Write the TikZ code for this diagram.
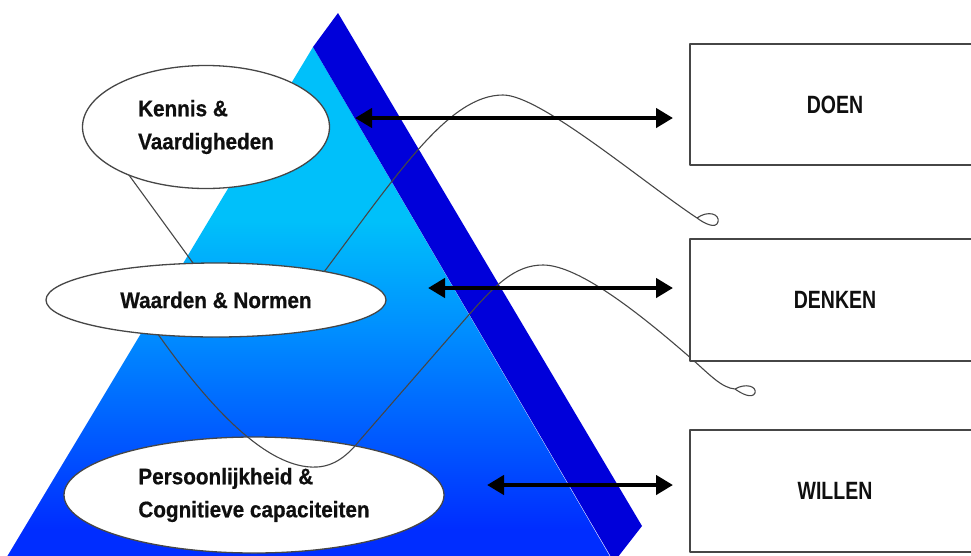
\documentclass[tikz,border=0pt]{standalone}
\usepackage{fontspec}
\newfontfamily\ovalfont[FakeStretch=0.92,BoldFeatures={FakeBold=0.6}]{Liberation Sans}
\newfontfamily\boxfont[FakeStretch=0.78]{Liberation Sans}
\usetikzlibrary{shapes.geometric,arrows.meta}
\definecolor{facetop}{RGB}{0,192,250}
\definecolor{facemid}{RGB}{0,140,255}
\definecolor{facelow}{RGB}{0,95,255}
\definecolor{facebot}{RGB}{0,45,255}
\definecolor{bandblue}{RGB}{0,0,218}
\definecolor{rimgray}{RGB}{70,70,70}
\definecolor{inkblack}{RGB}{15,15,15}
\pgfdeclareverticalshading{facefill}{100bp}{color(0bp)=(facebot); color(28bp)=(facebot);
   color(38bp)=(facelow); color(47bp)=(facemid); color(58bp)=(facetop); color(100bp)=(facetop)}

\begin{document}
\begin{tikzpicture}[x=1pt, y=-1pt, line join=round,
    strand/.style={draw=rimgray, line width=1.1pt},
    twoway/.style={line width=4.8pt, {Triangle[length=17pt,width=19pt]}-{Triangle[length=17pt,width=19pt]}}]
\useasboundingbox (0,0) rectangle (971,555);
\clip (0,0) rectangle (971,555);

   \shade[shading=facefill] (313,47) -- (5,560) -- (612,560) -- cycle;
   \fill[bandblue] (338,13) -- (642,526) -- (614,562) -- (313,47) -- cycle;

   \begin{scope}[every node/.style={ellipse,draw=rimgray,line width=1.3pt,fill=white,
         inner sep=0pt,align=left,text=inkblack,font=\ovalfont\bfseries\fontsize{22.5}{33}\selectfont}]
    \node[minimum width=380pt, minimum height=116pt] (persoon) at (254,495)
       {Persoonlijkheid \&\\Cognitieve capaciteiten};
   \end{scope}

\draw[strand] (118,160) -- (193,263) .. controls (225,310) and (300,305) .. (327,268)
   .. controls (400,170) and (450,95) .. (503,95)
   .. controls (540,95) and (640,180) .. (697,218)
   .. controls (708,210) and (720,214) .. (718,222)
   .. controls (716,229) and (705,224) .. (697,218);
\draw[strand] (140,312) -- (160,337) .. controls (205,400) and (265,470) .. (317,467)
   .. controls (335,466) and (348,455) .. (360,440)
   -- (467,317)
   .. controls (495,285) and (515,265) .. (543,265)
   .. controls (580,265) and (645,318) .. (693,360)
   .. controls (710,375) and (722,388) .. (735,389)
   .. controls (745,383) and (757,386) .. (755,393)
   .. controls (752,399) and (742,394) .. (735,389);

   \begin{scope}[every node/.style={ellipse,draw=rimgray,line width=1.3pt,fill=white,
         inner sep=0pt,align=left,text=inkblack,font=\ovalfont\bfseries\fontsize{22.5}{33}\selectfont}]
    \node[minimum width=247pt, minimum height=123pt] (kennis) at (206,127) {Kennis \&\\Vaardigheden};
    \node[minimum width=340pt, minimum height=74pt] (waarden) at (216,300) {Waarden \& Normen};
   \end{scope}

   \begin{scope}[every node/.style={rectangle,draw=rimgray,line width=2pt,fill=white,
         minimum width=290pt,text=inkblack,font=\boxfont\bfseries\fontsize{25}{30}\selectfont}]
    \node[minimum height=121pt] (doen) at (835,104.5) {DOEN};
    \node[minimum height=122pt] (denken) at (835,300) {DENKEN};
    \node[minimum height=122pt] (willen) at (835,491) {WILLEN};
   \end{scope}

\coordinate (doenL) at (355,118);
\coordinate (doenR) at (673,118);
\coordinate (denkenL) at (428,288);
\coordinate (denkenR) at (673,288);
\coordinate (willenL) at (487,485);
\coordinate (willenR) at (673,485);
\draw[twoway] (doenL) -- (doenR);
\draw[twoway] (denkenL) -- (denkenR);
\draw[twoway] (willenL) -- (willenR);
\end{tikzpicture}
\end{document}
